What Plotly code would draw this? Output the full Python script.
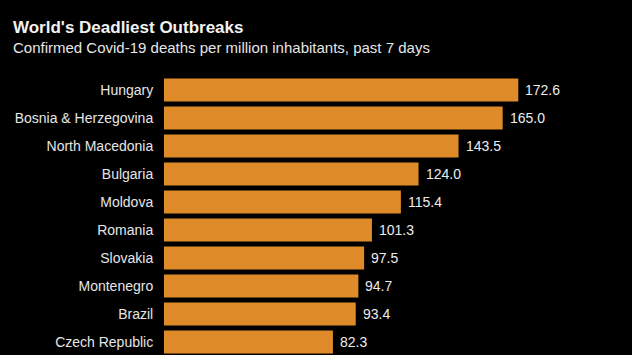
import plotly.graph_objects as go

countries = ["Hungary", "Bosnia & Herzegovina", "North Macedonia", "Bulgaria", "Moldova",
             "Romania", "Slovakia", "Montenegro", "Brazil", "Czech Republic"]
deaths = [172.6, 165.0, 143.5, 124.0, 115.4, 101.3, 97.5, 94.7, 93.4, 82.3]
labels = [f"{v:.1f}" for v in deaths]

title = "World's Deadliest Outbreaks"
subtitle = "Confirmed Covid-19 deaths per million inhabitants, past 7 days"

FONT = "Liberation Sans, Arial"
W, H = 632, 355
L, T = 164, 76
ph = H - T

fig = go.Figure(go.Bar(
    x=deaths, y=countries, orientation="h",
    marker=dict(color="#DF8B2A", line=dict(width=0)),
    hoverinfo="skip",
))

annotations = []
for c, v, lab in zip(countries, deaths, labels):
    annotations.append(dict(x=v, y=c, xref="x", yref="y", text=lab, showarrow=False,
                            xanchor="left", xshift=5,
                            font=dict(family=FONT, size=14, color="#EDEDED")))

annotations.append(dict(xref="paper", yref="paper", x=(11 - L) / (W - L), y=1 + (T - 27) / ph,
                        xanchor="left", yanchor="middle", showarrow=False,
                        text="<b>" + title + "</b>",
                        font=dict(family=FONT, size=17, color="#F2F2F2")))
annotations.append(dict(xref="paper", yref="paper", x=(11 - L) / (W - L), y=1 + (T - 47) / ph,
                        xanchor="left", yanchor="middle", showarrow=False,
                        text=subtitle,
                        font=dict(family=FONT, size=15, color="#E6E6E6")))

fig.update_layout(
    width=W, height=H,
    margin=dict(l=L, r=0, t=T, b=0, pad=0),
    paper_bgcolor="#000000", plot_bgcolor="#000000",
    bargap=0.18,
    showlegend=False,
    annotations=annotations,
    xaxis=dict(range=[0, 228], visible=False, showgrid=False, zeroline=False),
    yaxis=dict(range=[9.464, -0.5], showgrid=False, zeroline=False, showline=False,
               ticks="outside", ticklen=7, tickcolor="rgba(0,0,0,0)",
               tickfont=dict(family=FONT, size=14, color="#E6E6E6")),
)

fig.write_html("out.html", config={"displayModeBar": False},
               post_script="document.body.style.margin='0';document.body.style.background='#000';")
